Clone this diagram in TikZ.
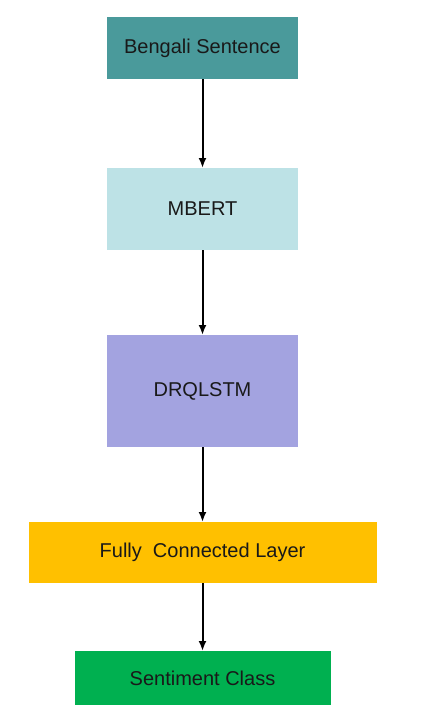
\documentclass[tikz,border=0pt]{standalone}
\usepackage{fontspec}
\setmainfont{Liberation Sans}
\usetikzlibrary{arrows.meta, positioning}
\definecolor{tealbox}{HTML}{4A9A9B}
\definecolor{cyanbox}{HTML}{BDE2E6}
\definecolor{lavbox}{HTML}{A3A3E0}
\definecolor{amberbox}{HTML}{FFC000}
\definecolor{greenbox}{HTML}{00B050}

\begin{document}
\begin{tikzpicture}[x=1pt, y=1pt, >={Latex[length=10pt, width=8pt]},
    layer/.style={rectangle, inner sep=0pt, outer sep=0pt, text=black!90,
        font=\fontsize{20}{24}\selectfont}]
    \useasboundingbox (0,0) rectangle (425,-725);
    \node[layer, fill=tealbox, minimum width=191pt, minimum height=62pt] (sentence) at (202.5,-48) {Bengali Sentence};
    \node[layer, fill=cyanbox, minimum width=191pt, minimum height=82pt, below=89pt of sentence] (mbert) {MBERT};
    \node[layer, fill=lavbox, minimum width=191pt, minimum height=112pt, below=85pt of mbert] (drqlstm) {DRQLSTM};
    \node[layer, fill=amberbox, minimum width=348pt, minimum height=61pt, below=75pt of drqlstm] (fc) {Fully\ \ Connected Layer};
    \node[layer, fill=greenbox, minimum width=256pt, minimum height=54pt, below=68pt of fc] (sentiment) {Sentiment Class};

    \path[->, line width=2pt] (sentence) edge (mbert);
    \path[->, line width=2pt] (mbert) edge (drqlstm);
    \path[->, line width=2pt] (drqlstm) edge (fc);
    \path[->, line width=2pt] (fc) edge (sentiment);
\end{tikzpicture}
\end{document}
